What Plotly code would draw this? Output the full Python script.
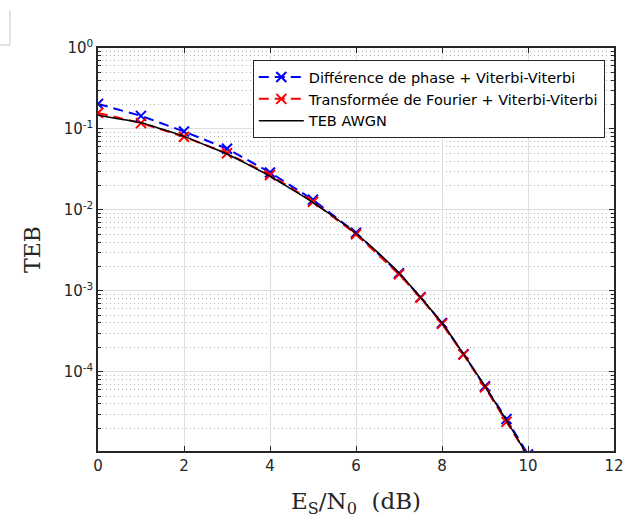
import plotly.graph_objects as go

# ---- data ----
snr_markers = [0, 1, 2, 3, 4, 5, 6, 7, 7.5, 8, 8.5, 9, 9.5, 10]
ber_phase = [0.204, 0.145, 0.093, 0.057, 0.029, 0.0133, 0.0052, 0.00165, 0.00083,
             0.00040, 0.000165, 0.000066, 0.000026, 0.0000095]
ber_fourier = [0.158, 0.118, 0.080, 0.050, 0.027, 0.0126, 0.0050, 0.0016, 0.00082,
               0.00039, 0.000163, 0.000064, 0.000024, 0.000009]
snr_awgn = [0, 0.5, 1, 1.5, 2, 2.5, 3, 3.5, 4, 4.5, 5, 5.5, 6, 6.5, 7, 7.5, 8, 8.5,
            9, 9.5, 10]
ber_awgn = [0.148, 0.133, 0.119, 0.099, 0.081, 0.063, 0.049, 0.036, 0.026, 0.018,
            0.0123, 0.0081, 0.0051, 0.0030, 0.00166, 0.00083, 0.00040, 0.000166,
            0.000066, 0.000025, 0.0000089]

x_ticks = [0, 2, 4, 6, 8, 10, 12]
y_ticks = [1, 0.1, 0.01, 0.001, 0.0001]
y_ticktext = ["10<sup>0</sup>", "10<sup>-1</sup>", "10<sup>-2</sup>",
              "10<sup>-3</sup>", "10<sup>-4</sup>"]
minor_vals = [k * 10.0 ** e for e in range(-5, 0) for k in range(2, 10)]

legend_names = ["Différence de phase + Viterbi-Viterbi",
                "Transformée de Fourier + Viterbi-Viterbi",
                "TEB AWGN"]

fig = go.Figure()
fig.add_trace(go.Scatter(
    x=snr_markers, y=ber_phase, mode="lines+markers", name=legend_names[0],
    line=dict(color="#0000FF", width=2, dash="10px,6px"),
    marker=dict(symbol="x-thin-open", size=10, color="#0000FF",
                line=dict(color="#0000FF", width=2)),
))
fig.add_trace(go.Scatter(
    x=snr_markers, y=ber_fourier, mode="lines+markers", name=legend_names[1],
    line=dict(color="#FF0000", width=2, dash="10px,6px"),
    marker=dict(symbol="x-thin-open", size=10, color="#FF0000",
                line=dict(color="#FF0000", width=2)),
))
fig.add_trace(go.Scatter(
    x=snr_awgn, y=ber_awgn, mode="lines", name=legend_names[2],
    line=dict(color="#000000", width=1.5, shape="spline"),
))

axis_font = dict(family="DejaVu Sans", size=15, color="#262626")
fig.update_layout(
    width=628, height=518,
    margin=dict(l=98, r=14, t=48, b=67, autoexpand=False),
    paper_bgcolor="white", plot_bgcolor="white",
    showlegend=True,
    legend=dict(x=0.300, y=0.970, xanchor="left", yanchor="top",
                bgcolor="white", bordercolor="#262626", borderwidth=1,
                font=dict(family="DejaVu Sans", size=14.5, color="#000000"),
                tracegroupgap=0, itemwidth=45),
    xaxis=dict(
        range=[0, 12], tickmode="array", tickvals=x_ticks,
        ticks="inside", ticklen=5, tickcolor="#262626",
        showline=True, linecolor="#262626", linewidth=1.5, mirror="ticks",
        showgrid=True, gridcolor="#dedede", gridwidth=1, zeroline=False,
        tickfont=axis_font, automargin=False,
        title=dict(text="E<sub>S</sub>/N<sub>0</sub>  (dB)",
                   font=dict(family="DejaVu Serif", size=23, color="#262626"),
                   standoff=32),
    ),
    yaxis=dict(
        type="log", range=[-4.98, 0], tickmode="array", tickvals=y_ticks,
        ticktext=y_ticktext,
        ticks="inside", ticklen=5, tickcolor="#262626",
        showline=True, linecolor="#262626", linewidth=1.5, mirror="ticks",
        showgrid=True, gridcolor="#dedede", gridwidth=1, zeroline=False,
        tickfont=axis_font, automargin=False,
        minor=dict(tickmode="array", tickvals=minor_vals, ticks="inside",
                   ticklen=3, tickcolor="#262626", showgrid=True,
                   gridcolor="#b4b4b4", griddash="1px,3px", gridwidth=1),
        title=dict(text="TEB",
                   font=dict(family="DejaVu Serif", size=22, color="#262626"),
                   standoff=17),
    ),
    shapes=[
        dict(type="line", xref="paper", yref="paper", x0=-0.1705, x1=-0.1705,
             y0=1.094, y1=1.0074, line=dict(color="#c8c8c8", width=1)),
        dict(type="line", xref="paper", yref="paper", x0=-0.19, x1=-0.1705,
             y0=1.0074, y1=1.0074, line=dict(color="#c8c8c8", width=1)),
    ],
)

fig.write_html("out.html", config={"displayModeBar": False},
               post_script="document.body.style.margin='0';")
